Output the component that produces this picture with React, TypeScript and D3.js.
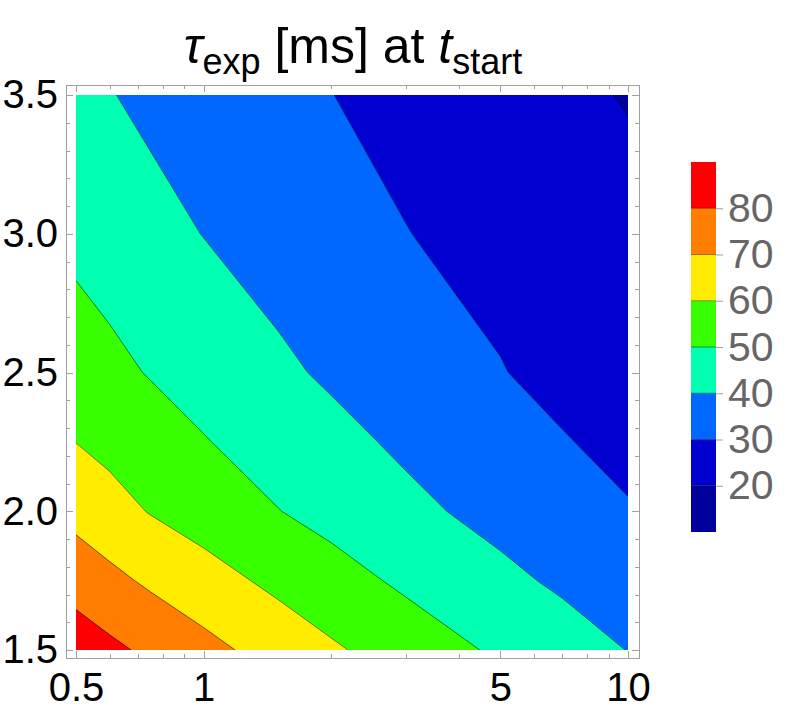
import React, { useEffect, useRef } from "react";
import * as d3 from "d3";

// sample grid (x = first axis, log scale; y = second axis)
const xSamples = [0.5, 0.6, 0.75, 1, 1.5, 2, 3, 5, 7, 10];
const ySamples = [3.5, 3.0, 2.5, 2.25, 2.0, 1.75, 1.5];

// tau_exp [ms] per row, top row (3.5) first
const tauRow35 = [41.9, 40.4, 38.0, 36.0, 32.5, 30.1, 27.4, 24.0, 21.8, 19.5];
const tauRow30 = [47.5, 45.5, 42.9, 39.8, 36.2, 33.7, 30.2, 27.0, 24.9, 22.7];
const tauRow25 = [54.9, 52.4, 49.4, 46.2, 41.6, 38.7, 35.0, 30.4, 27.3, 24.1];
const tauRow225 = [59.9, 57.5, 54.5, 50.5, 45.8, 42.6, 38.4, 33.7, 30.6, 27.4];
const tauRow20 = [66.8, 63.4, 59.5, 55.6, 50.2, 46.9, 42.2, 37.1, 34.0, 30.7];
const tauRow175 = [76.2, 72.5, 68.4, 63.9, 57.7, 53.7, 48.3, 42.2, 38.5, 35.0];
const tauRow15 = [85.3, 82.1, 78.1, 72.9, 66.0, 61.3, 55.4, 48.5, 44.4, 39.8];

const contourLevels = [10, 20, 30, 40, 50, 60, 70, 80];
const bandColors = ["#00009c", "#0000d0", "#0068ff", "#00ffb0", "#38ff00", "#ffec00", "#ff7d00", "#ff0000"];
const legendTicks = [20, 30, 40, 50, 60, 70, 80];

const xMajorTicks = [0.5, 1, 5, 10];
const xMinorTicks = [0.6, 0.7, 0.8, 0.9, 2, 3, 4, 6, 7, 8, 9];
const yMajorTicks = [1.5, 2.0, 2.5, 3.0, 3.5];

export default function App() {
  const svgRef = useRef<SVGSVGElement>(null);
  const width = 789;
  const height = 718;

  useEffect(() => {
    const svg = d3.select(svgRef.current);
    svg.selectAll("*").remove();

    const frame = { left: 66, right: 639, top: 85, bottom: 658 };
    const x = d3.scaleLog().domain([0.5, 10]).range([76, 628]);
    const y = d3.scaleLinear().domain([1.5, 3.5]).range([650, 95]);

    const rows = [tauRow35, tauRow30, tauRow25, tauRow225, tauRow20, tauRow175, tauRow15];
    // pad by repeating the edges so d3.contours closes rings outside the clip
    const padded = [rows[0], ...rows, rows[rows.length - 1]].map((r) => [r[0], ...r, r[r.length - 1]]);
    const nx = padded[0].length;
    const ny = padded.length;
    const values = padded.flat();

    const colPx = xSamples.map((v) => x(v));
    const rowPx = ySamples.map((v) => y(v));
    const toPx = (c: number, px: number[]) => {
      const u = c - 1.5;
      const n = px.length;
      if (u <= 0) return px[0] + u * 20;
      if (u >= n - 1) return px[n - 1] + (u - n + 1) * 20;
      const i = Math.floor(u);
      return px[i] + (u - i) * (px[i + 1] - px[i]);
    };

    const path = d3.geoPath(
      d3.geoTransform({
        point(px: number, py: number) {
          this.stream.point(toPx(px, colPx), toPx(py, rowPx));
        },
      })
    );

    const bands = d3.contours().size([nx, ny]).thresholds(contourLevels)(values);

    svg
      .append("defs")
      .append("clipPath")
      .attr("id", "plot-clip")
      .append("rect")
      .attr("x", 76)
      .attr("y", 95)
      .attr("width", 552)
      .attr("height", 555);

    const plot = svg.append("g").attr("clip-path", "url(#plot-clip)");
    plot
      .selectAll("path.band")
      .data(bands)
      .join("path")
      .attr("class", "band")
      .attr("d", (d) => path(d as any))
      .attr("fill", (d, i) => bandColors[i])
      .attr("stroke", (d, i) => bandColors[i])
      .attr("stroke-width", 0.5);

    // contour lines
    plot
      .selectAll("path.line")
      .data(bands.slice(1))
      .join("path")
      .attr("class", "line")
      .attr("d", (d) => path(d as any))
      .attr("fill", "none")
      .attr("stroke", "#000")
      .attr("stroke-opacity", 0.5)
      .attr("stroke-width", 1);

    // frame
    svg
      .append("rect")
      .attr("x", frame.left)
      .attr("y", frame.top)
      .attr("width", frame.right - frame.left)
      .attr("height", frame.bottom - frame.top)
      .attr("fill", "none")
      .attr("stroke", "#a0a0a0")
      .attr("stroke-width", 1)
      .style("shape-rendering", "crispEdges");

    const fontFamily = "'Liberation Sans', Arial, sans-serif";
    const styleAxis = (g: any) => {
      g.select(".domain").remove();
      g.selectAll("line").attr("stroke", "#a0a0a0").style("shape-rendering", "crispEdges");
      g.selectAll("text").attr("fill", "#000").style("font-size", "40px").style("font-family", fontFamily);
    };

    svg.append("g").attr("transform", `translate(0,${frame.bottom})`)
      .call(d3.axisBottom(x).tickValues(xMinorTicks).tickSize(-4).tickFormat(() => "")).call(styleAxis);
    svg.append("g").attr("transform", `translate(0,${frame.bottom})`)
      .call(d3.axisBottom(x).tickValues(xMajorTicks).tickSize(-7).tickPadding(15).tickFormat((d: any) => String(d))).call(styleAxis);
    svg.append("g").attr("transform", `translate(0,${frame.top})`)
      .call(d3.axisTop(x).tickValues(xMinorTicks).tickSize(-4).tickFormat(() => "")).call(styleAxis);
    svg.append("g").attr("transform", `translate(0,${frame.top})`)
      .call(d3.axisTop(x).tickValues(xMajorTicks).tickSize(-7).tickFormat(() => "")).call(styleAxis);

    const yMinorTicks = d3.range(15, 36).map((v) => v / 10).filter((v) => !yMajorTicks.includes(v));
    svg.append("g").attr("transform", `translate(${frame.left},0)`)
      .call(d3.axisLeft(y).tickValues(yMinorTicks).tickSize(-4).tickFormat(() => "")).call(styleAxis);
    svg.append("g").attr("transform", `translate(${frame.left},0)`)
      .call(d3.axisLeft(y).tickValues(yMajorTicks).tickSize(-7).tickPadding(8).tickFormat(d3.format(".1f") as any)).call(styleAxis);
    svg.append("g").attr("transform", `translate(${frame.right},0)`)
      .call(d3.axisRight(y).tickValues(yMinorTicks).tickSize(-4).tickFormat(() => "")).call(styleAxis);
    svg.append("g").attr("transform", `translate(${frame.right},0)`)
      .call(d3.axisRight(y).tickValues(yMajorTicks).tickSize(-7).tickFormat(() => "")).call(styleAxis);

    // colour legend
    const ly = d3.scaleLinear().domain([10, 90]).range([532, 162]);
    const legend = svg.append("g");
    legend
      .selectAll("rect")
      .data(contourLevels)
      .join("rect")
      .attr("x", 691)
      .attr("y", (d) => ly(d + 10))
      .attr("width", 25)
      .attr("height", (d) => ly(d) - ly(d + 10))
      .attr("fill", (d, i) => bandColors[i]);
    legend
      .selectAll("line.sep")
      .data(legendTicks)
      .join("line")
      .attr("class", "sep")
      .attr("x1", 691)
      .attr("x2", 716)
      .attr("y1", (d) => ly(d))
      .attr("y2", (d) => ly(d))
      .attr("stroke", "#000")
      .attr("stroke-opacity", 0.4);
    const legendAxis = legend.append("g").attr("transform", "translate(716,0)")
      .call(d3.axisRight(ly).tickValues(legendTicks).tickSize(7).tickPadding(5).tickFormat((d: any) => String(d)));
    legendAxis.select(".domain").remove();
    legendAxis.selectAll("line").attr("stroke", "#a0a0a0");
    legendAxis.selectAll("text").attr("fill", "#666").style("font-size", "41px").style("font-family", fontFamily);

    // title
    const title = svg
      .append("text")
      .attr("x", 353)
      .attr("y", 63)
      .attr("text-anchor", "middle")
      .style("font-family", fontFamily)
      .style("font-size", "50px")
      .style("white-space", "pre")
      .attr("fill", "#000");
    title.append("tspan").style("font-style", "italic").text("τ");
    title.append("tspan").attr("dy", 11).style("font-size", "36px").text("exp");
    title.append("tspan").attr("dy", -11).text(" [ms] at ");
    title.append("tspan").style("font-style", "italic").text("t");
    title.append("tspan").attr("dy", 11).style("font-size", "36px").text("start");
  }, []);

  return (
    <svg
      ref={svgRef}
      width={width}
      height={height}
      style={{ position: "absolute", left: 0, top: 0, display: "block", background: "#fff" }}
    ></svg>
  );
}
